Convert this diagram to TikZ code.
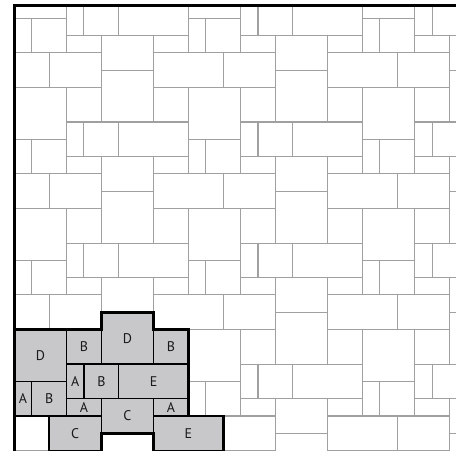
\documentclass[tikz,border=0pt]{standalone}
\usepackage{fontspec}
\setmainfont{PT Sans}
\definecolor{tileline}{RGB}{160,160,160}
\definecolor{setfill}{RGB}{200,200,202}
\begin{document}
\begin{tikzpicture}[x=17.41pt,y=-17.29pt,
  tile/.style={draw=tileline,line width=1.1pt},
  settile/.style={draw=black,fill=setfill,line width=1.2pt},
  outline/.style={draw=black,line width=2.6pt,line join=miter,line cap=rect},
  border/.style={draw=black,line width=3pt,line join=miter},
  lab/.style={font=\fontsize{14}{14}\selectfont,inner sep=0pt,text=black!90}]
\useasboundingbox (-0.8214,-1.0584) rectangle (25.371,25.026);
% white tiling (period 10 x 7)
\begin{scope}
\clip (0,-0.752) rectangle (25.371,25.026);
\foreach \i in {-1,...,2}{
  \foreach \j in {-1,...,3}{
    \foreach \c/\k/\w/\h in {0/4/3/3,3/4/2/2,5/3/3/3,8/4/2/2,3/6/1/2,4/6/2/2,6/6/4/2,
                            0/7/1/2,1/7/2/2,3/8/2/1,5/8/3/2,8/8/2/1,2/9/3/2,8/9/4/2}{
      \draw[tile] ({\c+10*\i},{\k+7*\j}) rectangle ++(\w,\h);
    }
  }
}
\end{scope}
% shaded set
\begin{scope}
\clip (-0.8214,-1.0584) rectangle (25.371,25.026);
\foreach \c/\k/\w/\h/\t/\n in {0/18/3/3/D/d1,3/18/2/2/B/b1,5/17/3/3/D/d2,8/18/2/2/B/b2,
                              3/20/1/2/A/a1,4/20/2/2/B/b3,6/20/4/2/E/e1,0/21/1/2/A/a2,
                              1/21/2/2/B/b4,3/22/2/1/A/a3,5/22/3/2/C/c1,8/22/2/1/A/a4,
                              2/23/3/2/C/c2,8/23/4/2/E/e2}{
  \draw[settile] (\c,\k) rectangle ++(\w,\h);
  \node[lab] (\n) at ({\c+\w/2},{\k+\h/2}) {\t};
}
\draw[outline] (0,18) -- (5,18) -- (5,17) -- (8,17) -- (8,18) -- (10,18) -- (10,23) -- (12,23) -- (12,25.5);
\draw[outline] (0,23) -- (2,23) -- (2,25.5);
\draw[outline] (5,25.5) -- (5,24) -- (8,24) -- (8,25.5);
\end{scope}
% borders
\draw[border] (0,25.2) -- (0,-0.752) -- (25.5,-0.752);
\end{tikzpicture}
\end{document}
